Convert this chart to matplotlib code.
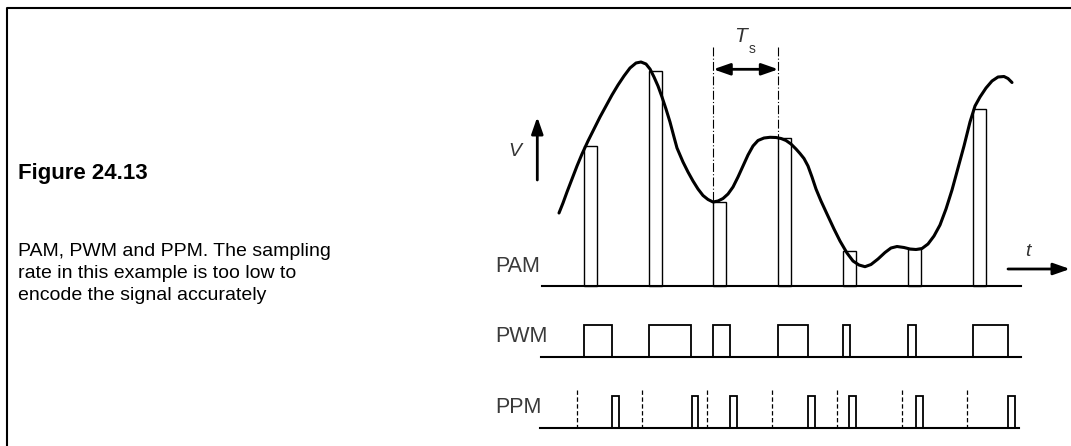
import matplotlib.pyplot as plt
from matplotlib.patches import Rectangle

# Sample instants (x) and PAM pulse tops (y), read in picture pixels
sample_x = [584, 649, 713.3, 778.3, 843.3, 908.3, 972.7]
pam_top = [146, 71, 202, 138, 251, 249, 109]
pam_width = 13

# PWM pulse widths and PPM pulse positions
pwm_width = [28.3, 42.3, 16.7, 30, 6.7, 8, 35.7]
ppm_start = [612.3, 691.7, 730, 808.3, 849.3, 916, 1008.3]
ppm_width = 6.5
ppm_marks = [577.3, 642.3, 706.7, 771.7, 836.7, 901.7, 966.7]

# The analogue signal, traced point by point
sig_x = [559, 563, 567, 572, 577, 582, 588, 594, 600, 606,
         612, 618, 624, 630, 636, 641, 646, 650, 654, 658,
         662, 666, 670, 674, 677, 683, 688, 693, 698, 703,
         708, 713, 718, 723, 728, 733, 738, 743, 748, 753,
         758, 764, 770, 776, 781, 786, 791, 796, 800, 804,
         808, 812, 816, 821, 827, 834, 840, 847, 853, 859,
         865, 871, 878, 885, 891, 897, 904, 910, 916, 922,
         928, 934, 940, 946, 952, 958, 964, 970, 975, 980,
         986, 992, 998, 1004, 1008, 1012]
sig_y = [213, 203, 192, 179, 166, 154, 141, 129, 117, 106,
         95, 85, 76, 68, 63, 62, 64, 69, 77, 86,
         97, 109, 122, 137, 148, 162, 172, 181, 189, 195.5,
         199.5, 202, 201, 198.5, 194, 187, 177, 166, 155, 146,
         140.5, 138, 137.3, 137.5, 138.5, 140.5, 144, 149, 153.5, 158.5,
         166, 177, 189, 201, 214, 229, 241, 253, 261, 265,
         266.7, 264.5, 259, 252.5, 248, 246.5, 247.5, 249, 249.5, 248.5,
         244, 236, 225, 209, 190, 168, 146, 122, 106, 97,
         88, 81, 77, 76.5, 78.5, 82.5]

# Trace rows (baseline y, start x, end x)
pam_base, pwm_base, ppm_base = 286, 357.3, 428.3
pwm_top, ppm_top = 324.7, 396
row_x0 = [542, 541, 540]
row_x1 = [1021, 1020.7, 1019.3]

fig = plt.figure(figsize=(10.71, 4.46), dpi=100)
ax = fig.add_axes([0, 0, 1, 1])
ax.set_xlim(0, 1071)
ax.set_ylim(446, 0)
ax.axis('off')

# Page frame
ax.plot([7.3, 7.3, 1071], [446, 8.3, 8.3], color='black', lw=1.5,
        solid_capstyle='butt')

# Caption
ax.text(18, 173, 'Figure 24.13', fontsize=16, fontweight='bold',
        family='Liberation Sans', va='center')
caption = ('PAM, PWM and PPM. The sampling\n'
           'rate in this example is too low to\n'
           'encode the signal accurately')
ax.text(18, 243, caption, fontsize=14, family='Liberation Sans',
        va='top', linespacing=1.38)

# Baselines
for base, x0, x1 in zip([pam_base, pwm_base, ppm_base], row_x0, row_x1):
    ax.plot([x0, x1], [base, base], color='black', lw=1.5)

# PAM pulses
for x, top in zip(sample_x, pam_top):
    ax.add_patch(Rectangle((x, top), pam_width, pam_base - top,
                           fill=False, ec='black', lw=1.0))

# Signal
ax.plot(sig_x, sig_y, color='black', lw=2.2, solid_capstyle='round',
        solid_joinstyle='round')

# PWM pulses
for x, w in zip(sample_x, pwm_width):
    ax.add_patch(Rectangle((x, pwm_top), w, pwm_base - pwm_top,
                           fill=False, ec='black', lw=1.3))

# PPM pulses and sample marks
for x in ppm_start:
    ax.add_patch(Rectangle((x, ppm_top), ppm_width, ppm_base - ppm_top,
                           fill=False, ec='black', lw=1.3))
for x in ppm_marks:
    ax.plot([x, x], [390, ppm_base], color='black', lw=0.9,
            linestyle=(0, (3.5, 2)))

# Ts marker
for x, top in zip(sample_x[2:4], pam_top[2:4]):
    ax.plot([x, x], [46.7, top], color='black', lw=0.8,
            linestyle=(0, (8, 2, 1, 2)))
ax.annotate('', xy=(sample_x[2], 69.3), xytext=(sample_x[3], 69.3),
            arrowprops=dict(arrowstyle='<|-|>,head_length=1.0,head_width=0.35',
                            lw=2, color='black', shrinkA=0, shrinkB=0))
ax.text(741, 37, 'T', fontsize=15, style='italic', color='#333333',
        family='Liberation Sans', ha='center', va='center')
ax.text(752, 49, 's', fontsize=10, color='#333333',
        family='Liberation Sans', ha='center', va='center')

# V and t axes arrows
ax.annotate('', xy=(537.3, 117), xytext=(537.3, 180),
            arrowprops=dict(arrowstyle='-|>,head_length=1.0,head_width=0.35',
                            lw=2, color='black', shrinkA=0, shrinkB=0))
ax.text(515, 152, 'V', fontsize=14, style='italic', color='#333333',
        family='Liberation Sans', ha='center', va='center')
ax.annotate('', xy=(1070, 269), xytext=(1008, 269),
            arrowprops=dict(arrowstyle='-|>,head_length=1.0,head_width=0.35',
                            lw=2, color='black', shrinkA=0, shrinkB=0))
ax.text(1028, 252, 't', fontsize=14, style='italic', color='#333333',
        family='Liberation Sans', ha='center', va='center')

# Row labels
for label, y in zip(['PAM', 'PWM', 'PPM'], [266, 337, 407.5]):
    ax.text(495, y, label, fontsize=15.5, color='#3a3a3a',
            family='Liberation Sans', va='center')

fig.savefig('out.png', dpi=100)
